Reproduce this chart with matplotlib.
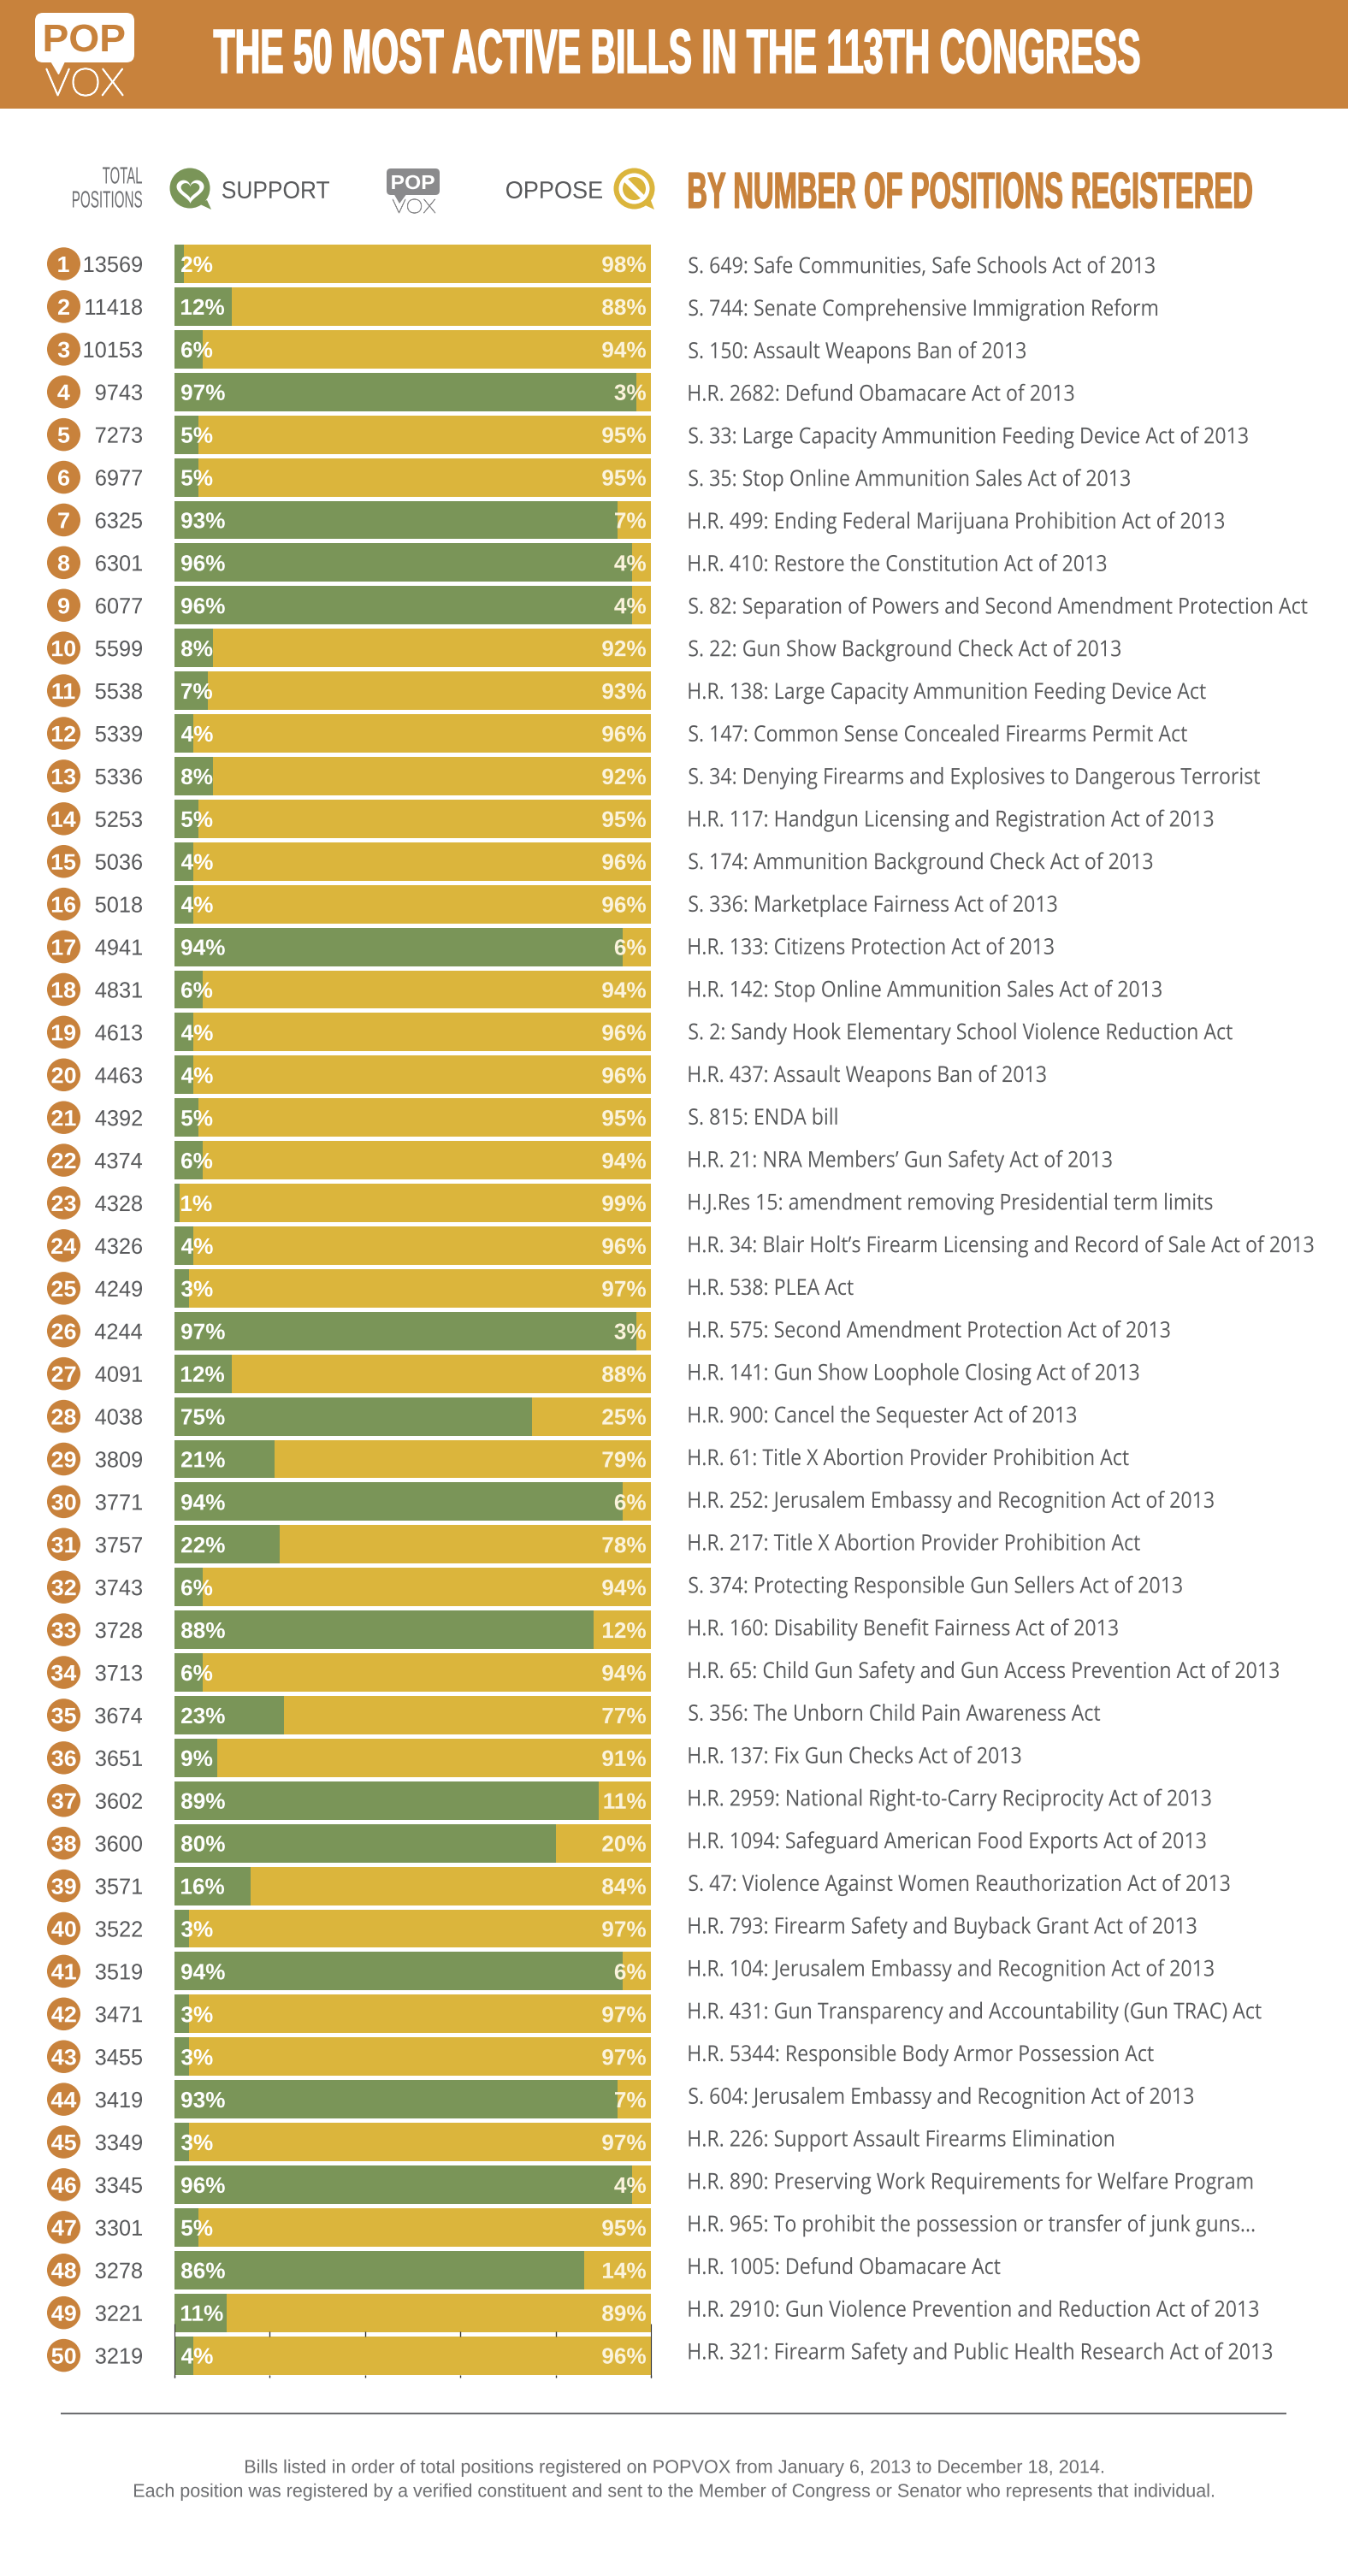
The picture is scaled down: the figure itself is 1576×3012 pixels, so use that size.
import numpy as np
import matplotlib
matplotlib.use("Agg")
import matplotlib.pyplot as plt
from matplotlib.text import Text
from matplotlib.textpath import TextPath
from matplotlib.font_manager import FontProperties
from matplotlib.patches import PathPatch, Ellipse, Circle, Polygon, FancyBboxPatch, Rectangle
from matplotlib.transforms import Affine2D, IdentityTransform, blended_transform_factory

# ---------- data ----------
totals = [13569, 11418, 10153, 9743, 7273, 6977, 6325, 6301, 6077, 5599,
          5538, 5339, 5336, 5253, 5036, 5018, 4941, 4831, 4613, 4463,
          4392, 4374, 4328, 4326, 4249, 4244, 4091, 4038, 3809, 3771,
          3757, 3743, 3728, 3713, 3674, 3651, 3602, 3600, 3571, 3522,
          3519, 3471, 3455, 3419, 3349, 3345, 3301, 3278, 3221, 3219]
support = [2, 12, 6, 97, 5, 5, 93, 96, 96, 8,
           7, 4, 8, 5, 4, 4, 94, 6, 4, 4,
           5, 6, 1, 4, 3, 97, 12, 75, 21, 94,
           22, 6, 88, 6, 23, 9, 89, 80, 16, 3,
           94, 3, 3, 93, 3, 96, 5, 86, 11, 4]
oppose = [98, 88, 94, 3, 95, 95, 7, 4, 4, 92,
          93, 96, 92, 95, 96, 96, 6, 94, 96, 96,
          95, 94, 99, 96, 97, 3, 88, 25, 79, 6,
          78, 94, 12, 94, 77, 91, 11, 20, 84, 97,
          6, 97, 97, 7, 97, 4, 95, 14, 89, 96]
bills = [
    "S. 649: Safe Communities, Safe Schools Act of 2013",
    "S. 744: Senate Comprehensive Immigration Reform",
    "S. 150: Assault Weapons Ban of 2013",
    "H.R. 2682: Defund Obamacare Act of 2013",
    "S. 33: Large Capacity Ammunition Feeding Device Act of 2013",
    "S. 35: Stop Online Ammunition Sales Act of 2013",
    "H.R. 499: Ending Federal Marijuana Prohibition Act of 2013",
    "H.R. 410: Restore the Constitution Act of 2013",
    "S. 82: Separation of Powers and Second Amendment Protection Act",
    "S. 22: Gun Show Background Check Act of 2013",
    "H.R. 138: Large Capacity Ammunition Feeding Device Act",
    "S. 147: Common Sense Concealed Firearms Permit Act",
    "S. 34: Denying Firearms and Explosives to Dangerous Terrorist",
    "H.R. 117: Handgun Licensing and Registration Act of 2013",
    "S. 174: Ammunition Background Check Act of 2013",
    "S. 336: Marketplace Fairness Act of 2013",
    "H.R. 133: Citizens Protection Act of 2013",
    "H.R. 142: Stop Online Ammunition Sales Act of 2013",
    "S. 2: Sandy Hook Elementary School Violence Reduction Act",
    "H.R. 437: Assault Weapons Ban of 2013",
    "S. 815: ENDA bill",
    "H.R. 21: NRA Members’ Gun Safety Act of 2013",
    "H.J.Res 15: amendment removing Presidential term limits",
    "H.R. 34: Blair Holt’s Firearm Licensing and Record of Sale Act of 2013",
    "H.R. 538: PLEA Act",
    "H.R. 575: Second Amendment Protection Act of 2013",
    "H.R. 141: Gun Show Loophole Closing Act of 2013",
    "H.R. 900: Cancel the Sequester Act of 2013",
    "H.R. 61: Title X Abortion Provider Prohibition Act",
    "H.R. 252: Jerusalem Embassy and Recognition Act of 2013",
    "H.R. 217: Title X Abortion Provider Prohibition Act",
    "S. 374: Protecting Responsible Gun Sellers Act of 2013",
    "H.R. 160: Disability Benefit Fairness Act of 2013",
    "H.R. 65: Child Gun Safety and Gun Access Prevention Act of 2013",
    "S. 356: The Unborn Child Pain Awareness Act",
    "H.R. 137: Fix Gun Checks Act of 2013",
    "H.R. 2959: National Right-to-Carry Reciprocity Act of 2013",
    "H.R. 1094: Safeguard American Food Exports Act of 2013",
    "S. 47: Violence Against Women Reauthorization Act of 2013",
    "H.R. 793: Firearm Safety and Buyback Grant Act of 2013",
    "H.R. 104: Jerusalem Embassy and Recognition Act of 2013",
    "H.R. 431: Gun Transparency and Accountability (Gun TRAC) Act",
    "H.R. 5344: Responsible Body Armor Possession Act",
    "S. 604: Jerusalem Embassy and Recognition Act of 2013",
    "H.R. 226: Support Assault Firearms Elimination",
    "H.R. 890: Preserving Work Requirements for Welfare Program",
    "H.R. 965: To prohibit the possession or transfer of junk guns...",
    "H.R. 1005: Defund Obamacare Act",
    "H.R. 2910: Gun Violence Prevention and Reduction Act of 2013",
    "H.R. 321: Firearm Safety and Public Health Research Act of 2013",
]
tick_values = [0, 20, 40, 60, 80, 100]

ORANGE = "#C8823C"
GREEN = "#7A9558"
YELLOW = "#DBB53C"
DARK = "#58595B"
GRAY = "#8A8A8C"
W, H = 1576, 3012
DPI = 100


class FitText(Text):
    """A real text artist whose glyphs are fitted to a cap height and width in pixels."""

    def __init__(self, x, y, s, cap=18, width=None, sx=1.0, stroke=0.0, **kw):
        family = kw.pop("family", "Liberation Sans")
        weight = kw.pop("weight", "normal")
        fp = FontProperties(family=family, weight=weight)
        h = TextPath((0, 0), "H", size=100, prop=fp).get_extents().height
        self.px = cap * 100.0 / h
        raw = TextPath((0, 0), s, size=self.px, prop=fp)
        ext = raw.get_extents()
        self.raw = raw
        self.sx = (width / ext.width) if width else sx
        self.cap_px = cap
        self.stroke_px = stroke
        # the artist's nominal size matches the width it is drawn at
        fp.set_size(self.px * self.sx * 72.0 / DPI)
        kw.setdefault("ha", "left")
        kw.setdefault("va", "center")
        super().__init__(x, y, s, fontproperties=fp, **kw)

    def _placed(self):
        x, y = self.get_transform().transform(self.get_unitless_position())
        ext = self.raw.get_extents()
        x0, x1 = ext.x0 * self.sx, ext.x1 * self.sx
        ha = self.get_ha()
        dx = {"left": -x0, "center": -(x0 + x1) / 2, "right": -x1}[ha]
        return self.raw.transformed(
            Affine2D().scale(self.sx, 1).translate(x + dx, y - self.cap_px / 2))

    def get_window_extent(self, renderer=None, dpi=None):
        return self._placed().get_extents()

    def draw(self, renderer):
        if not self.get_visible():
            return
        p = PathPatch(self._placed(), facecolor=self.get_color(), edgecolor=self.get_color(),
                      linewidth=self.stroke_px * 72.0 / DPI, transform=IdentityTransform())
        p.set_figure(self.get_figure())
        p.draw(renderer)


fig = plt.figure(figsize=(W / DPI, H / DPI), dpi=DPI, facecolor="white")

# ---------- overlay in pixel coordinates ----------
ov = fig.add_axes([0, 0, 1, 1], zorder=2)
ov.set_xlim(0, W)
ov.set_ylim(H, 0)
ov.axis("off")

# ---------- bars ----------
n = len(totals)
row1, pitch = 308.5, 49.91
top_px = row1 - pitch / 2
height_px = pitch * n
BAR_L, BAR_R = 204, 761
ax = fig.add_axes([BAR_L / W, 1 - (top_px + height_px) / H, (BAR_R - BAR_L) / W, height_px / H], zorder=1)
ranks = np.arange(1, n + 1)
ax.barh(ranks, support, height=0.9, color=GREEN, linewidth=0)
ax.barh(ranks, oppose, left=support, height=0.9, color=YELLOW, linewidth=0)
ax.set_xlim(0, 100)
ax.set_ylim(n + 0.5, 0.5)
ax.axis("off")

# axis remnants around the last rows
ax.vlines(tick_values[1:-1], 49.43, 49.55, color="#333333", lw=1.0)
ax.vlines(tick_values, 50.45, 50.52, color="#333333", lw=1.0, clip_on=False)
ax.vlines([tick_values[0], tick_values[-1]], 49.25, 50.52, color="#333333", lw=0.8, clip_on=False)

rowy = blended_transform_factory(ov.transData, ax.transData)


def T(x, y, s, transform=None, **kw):
    t = FitText(x, y, s, **kw)
    if transform is not None:
        t.set_transform(transform)
    ov.add_artist(t)
    return t


# ---------- rows ----------
for i, r in enumerate(ranks):
    y_px = row1 + pitch * i
    ov.add_patch(Ellipse((74.5, y_px), 39, 38.5, color=ORANGE, lw=0))
    T(74.5, r + 0.01, str(r), transform=rowy, ha="center", cap=18, sx=1.03, weight="bold", color="white")
    T(166, r + 0.01, str(totals[i]), transform=rowy, ha="right", cap=18, sx=0.97, color=DARK)
    T(212, r + 0.01, f"{support[i]}%", transform=rowy, cap=18, sx=1.0, weight="bold", color="white")
    T(755, r + 0.01, f"{oppose[i]}%", transform=rowy, ha="right", cap=18, sx=1.0, weight="bold", color="#FBF3DC")
    T(805.5, 310 + 49.78 * i, bills[i], family="Open Sans", cap=18.5, sx=0.894, color=DARK)

# ---------- banner ----------
ov.add_patch(Rectangle((0, 0), W, 127, color=ORANGE, lw=0))
T(250, 60, "THE 50 MOST ACTIVE BILLS IN THE 113TH CONGRESS", cap=50, width=1082,
  weight="bold", color="white", stroke=1.5)


def logo(x0, x1, y0, y1, fill, pop_color, vox_color, tail, vy, vh, vx0, vx1, ph, vstroke):
    w, h = x1 - x0, y1 - y0
    rad = h * 0.16
    ov.add_patch(FancyBboxPatch((x0 + rad, y0 + rad), w - 2 * rad, h - 2 * rad,
                                boxstyle=f"round,pad={rad}", facecolor=fill, edgecolor="none"))
    ov.add_patch(Polygon(tail, closed=True, facecolor=fill, edgecolor="none"))
    T((x0 + x1) / 2, (y0 + y1) / 2 + 0.5, "POP", ha="center", cap=ph, width=w * 0.8,
      weight="bold", color=pop_color)
    T((vx0 + vx1) / 2, vy, "VOX", ha="center", cap=vh, width=vx1 - vx0,
      family="Lato", weight="light", color=vox_color, stroke=vstroke)


logo(41, 157, 15, 73, "white", ORANGE, "white",
     [(58, 70), (77, 70), (69, 87), (68, 87)], 96, 31, 54, 144, 31, 1.6)
logo(452, 514, 197, 228, GRAY, "white", GRAY,
     [(460, 226), (476, 226), (467, 238)], 241, 16, 459, 509, 16, 0.8)

# ---------- header row ----------
T(166, 205, "TOTAL", ha="right", cap=19, width=46, color="#6D6E71")
T(166, 233, "POSITIONS", ha="right", cap=19, width=81, color="#6D6E71")
T(260, 222, "SUPPORT", cap=19.5, width=125, color=DARK)
T(704, 222, "OPPOSE", ha="right", cap=19.5, width=112, color=DARK)
T(805.5, 222.5, "BY NUMBER OF POSITIONS REGISTERED", cap=41, width=658,
  weight="bold", color=ORANGE, stroke=1.2)

# support icon
t = np.linspace(0, 2 * np.pi, 120)
hx = 16 * np.sin(t) ** 3
hy = -(13 * np.cos(t) - 5 * np.cos(2 * t) - 2 * np.cos(3 * t) - np.cos(4 * t))
ov.add_patch(Circle((222, 220), 23.5, color=GREEN, lw=0))
ov.add_patch(Polygon([(232, 238), (242, 234), (247, 245)], color=GREEN, lw=0))
ov.add_patch(Polygon(np.c_[222.5 + hx * 1.0, 222 + hy * 0.95], color="white", lw=0))
ov.add_patch(Polygon(np.c_[222.5 + hx * 0.68, 221.5 + hy * 0.62], color=GREEN, lw=0))

# oppose icon
ov.add_patch(Circle((741.5, 220.5), 24, color=YELLOW, lw=0))
ov.add_patch(Polygon([(750, 238), (760, 232), (765, 245)], color=YELLOW, lw=0))
ov.add_patch(Circle((741.5, 220.5), 18, color="white", lw=0))
ov.add_patch(Circle((741.5, 220.5), 13.5, color=YELLOW, lw=0))
ov.add_patch(Polygon([(729, 212), (733, 208), (754, 229), (750, 233)], color="white", lw=0))

# ---------- footer ----------
ov.plot([71, 1504], [2822, 2822], color="#6D6E71", lw=1.5, solid_capstyle="butt")
T(788.5, 2884, "Bills listed in order of total positions registered on POPVOX from January 6, 2013 to December 18, 2014.",
  ha="center", cap=15, width=1003, color="#6D6E71")
T(788, 2912, "Each position was registered by a verified constituent and sent to the Member of Congress or Senator who represents that individual.",
  ha="center", cap=15, width=1262, color="#6D6E71")

fig.savefig("out.png", dpi=DPI, facecolor="white")
